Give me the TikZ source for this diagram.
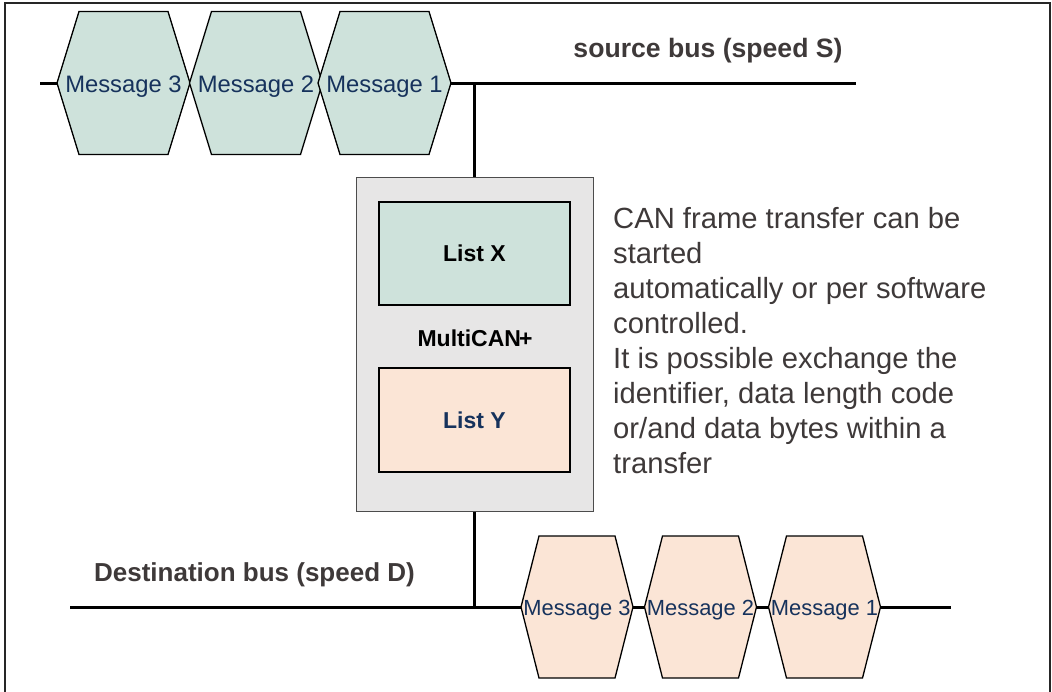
\documentclass[tikz,border=0pt]{standalone}
\usepackage{fontspec}
\setmainfont{Liberation Sans}
\definecolor{greenfill}{RGB}{206,226,219}
\definecolor{peachfill}{RGB}{251,229,214}
\definecolor{boxgray}{RGB}{231,230,230}
\definecolor{navy}{RGB}{22,50,92}
\definecolor{textgray}{RGB}{62,57,57}
\tikzset{
  hexline/.style={draw=black, line width=1.3pt, line join=miter},
  bus/.style={draw=black, line width=3pt},
  msgtext/.style={text=navy, inner sep=0pt},
  boldgray/.style={text=textgray, font=\bfseries\fontsize{26.6}{30}\selectfont, inner sep=0pt},
  listbox/.style={draw=black, line width=1.2pt, minimum width=191pt, minimum height=103pt, inner sep=0pt, font=\bfseries\fontsize{23}{27}\selectfont},
  pics/topmsg/.style={code={
    \draw[hexline, fill=greenfill] (-66.5,0) -- (-44.5,-71.5) -- (44.5,-71.5) -- (66.5,0) -- (44.5,71.5) -- (-44.5,71.5) -- cycle;
    \node[msgtext, font=\fontsize{23.8}{28}\selectfont] (-t) at (0,4) {#1};
  }},
  pics/botmsg/.style={code={
    \draw[hexline, fill=peachfill] (-56,0) -- (-38,-71) -- (38,-71) -- (56,0) -- (38,71) -- (-38,71) -- cycle;
    \node[msgtext, font=\fontsize{21.9}{26}\selectfont] (-t) at (0,3) {#1};
  }}
}
\begin{document}
\begin{tikzpicture}[x=1pt,y=-1pt]
\useasboundingbox (0,0) rectangle (1052,691);
% frame
\draw[line width=1.4pt, draw=black!85] (5,700) -- (5,3) -- (1050,3) -- (1050,700);

% source bus
\coordinate (sbL) at (40,83);
\coordinate (sbR) at (856,83);
\coordinate (sj) at (474.5,83);
\draw[bus] (sbL) -- (sbR);

% destination bus
\coordinate (dbL) at (70,607);
\coordinate (dbR) at (951,607);
\coordinate (dj) at (474.5,607);
\draw[bus] (dbL) -- (dbR);

% MultiCAN+ box
\node[draw=black!70, line width=1pt, fill=boxgray, minimum width=237pt, minimum height=334pt, inner sep=0pt] (mc) at (474.5,344) {};
\draw[line width=3pt] (sj) -- (mc.north);
\draw[line width=3pt] (mc.south) -- (dj);
\node[listbox, fill=greenfill, text=black] (listx) at (474.5,253.5) {List X};
\node[listbox, fill=peachfill, text=navy, minimum height=104pt] (listy) at (474.5,420) {List Y};
\node[inner sep=0pt, font=\bfseries\fontsize{23}{27}\selectfont] (mclabel) at (475,338) {MultiCAN\kern-2pt+};

% source messages
\pic (s3) at (123.5,83) {topmsg=Message 3};
\pic (s2) at (256,83) {topmsg=Message 2};
\pic (s1) at (384.5,83) {topmsg=Message 1};

% destination messages
\pic (d3) at (577,607) {botmsg=Message 3};
\pic (d2) at (700.5,607) {botmsg=Message 2};
\pic (d1) at (824.5,607) {botmsg=Message 1};

% labels
\node[boldgray] (srclabel) at (708,51) {source bus (speed S)};
\node[boldgray, font=\bfseries\fontsize{26}{30}\selectfont] (dstlabel) at (254.5,575) {Destination bus (speed D)};

\node[anchor=north west, inner sep=0pt, align=left, text=textgray, font=\fontsize{29.2}{35}\selectfont] (desc) at (613,207)
{CAN frame transfer can be\\
started\\
automatically or per software\\
controlled.\\
It is possible exchange the\\
identifier, data length code\\
or/and data bytes within a\\
transfer};
\end{tikzpicture}
\end{document}
